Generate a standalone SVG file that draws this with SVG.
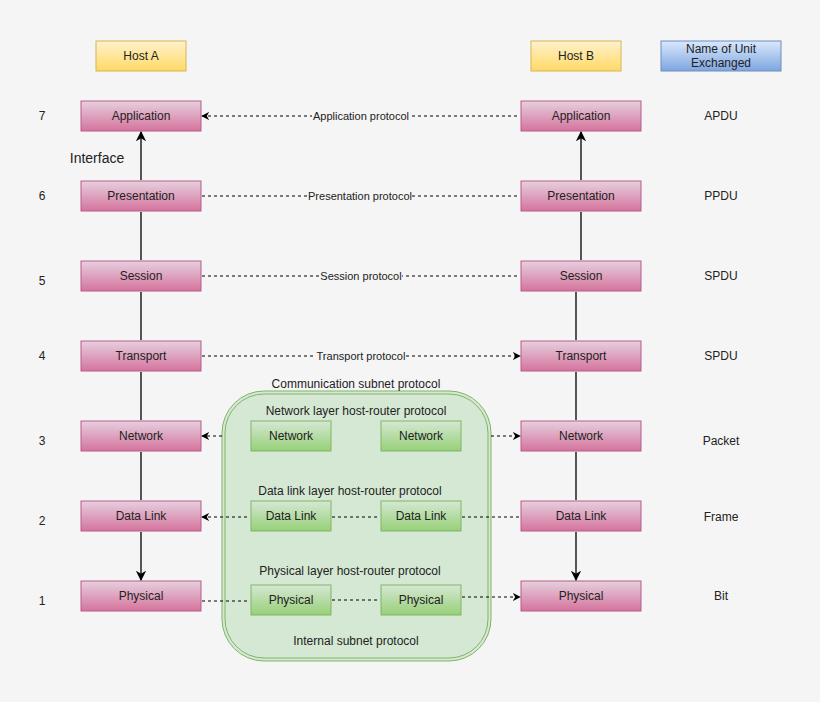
<svg xmlns="http://www.w3.org/2000/svg" width="820" height="702" viewBox="0 0 820 702">
<defs>
<linearGradient id="pk" x1="0" y1="0" x2="0" y2="1"><stop offset="0" stop-color="#e6d0de"/><stop offset="1" stop-color="#d5739d"/></linearGradient>
<linearGradient id="gr" x1="0" y1="0" x2="0" y2="1"><stop offset="0" stop-color="#d5e8d4"/><stop offset="1" stop-color="#97d077"/></linearGradient>
<linearGradient id="yl" x1="0" y1="0" x2="0" y2="1"><stop offset="0" stop-color="#fff2cc"/><stop offset="1" stop-color="#ffd966"/></linearGradient>
<linearGradient id="bl" x1="0" y1="0" x2="0" y2="1"><stop offset="0" stop-color="#dae8fc"/><stop offset="1" stop-color="#7ea6e0"/></linearGradient>
<marker id="a" viewBox="0 0 10 10" refX="9" refY="5" markerWidth="8" markerHeight="8" orient="auto-start-reverse"><path d="M0,0 L10,5 L0,10 L3,5 Z" fill="#000"/></marker>
<style>
text{font-family:"Liberation Sans",Arial,sans-serif;font-size:12px;fill:#222;text-anchor:middle;dominant-baseline:central}
.p{fill:url(#pk);stroke:#b85c8a}
.g{fill:url(#gr);stroke:#82b366}
.s{stroke:#000;stroke-width:1.3;fill:none;marker-start:url(#a);marker-end:url(#a)}
.d{stroke:#000;fill:none;stroke-dasharray:3 3;marker-start:url(#a);marker-end:url(#a)}
.lb{fill:#f5f5f5}
.sm{font-size:11px}
</style>
</defs>
<rect width="820" height="702" fill="#f5f5f5"/>
<g id="subnet"><rect x="222" y="391" width="269" height="270" rx="42" fill="#d5e8d4" stroke="#82b366" stroke-width="1"/><rect x="225" y="394" width="263" height="264" rx="39" fill="none" stroke="#82b366"/>
<text x="356" y="384">Communication subnet protocol</text>
<text x="356" y="411">Network layer host-router protocol</text>
<text x="350" y="491">Data link layer host-router protocol</text>
<text x="350" y="571">Physical layer host-router protocol</text>
<text x="356" y="641">Internal subnet protocol</text></g>
<g id="hostA"><rect x="96" y="41" width="90" height="30" fill="url(#yl)" stroke="#d6b656"/><text x="141" y="56">Host A</text></g>
<g id="hostB"><rect x="531" y="41" width="90" height="30" fill="url(#yl)" stroke="#d6b656"/><text x="576" y="56">Host B</text></g>
<g id="unit"><rect x="661" y="41" width="120" height="30" fill="url(#bl)" stroke="#6c8ebf"/><text x="721" y="49">Name of Unit</text><text x="721" y="63">Exchanged</text></g>
<g id="A7"><rect class="p" x="81" y="101" width="120" height="30"/><text x="141" y="116">Application</text></g>
<g id="A6"><rect class="p" x="81" y="181" width="120" height="30"/><text x="141" y="196">Presentation</text></g>
<g id="A5"><rect class="p" x="81" y="261" width="120" height="30"/><text x="141" y="276">Session</text></g>
<g id="A4"><rect class="p" x="81" y="341" width="120" height="30"/><text x="141" y="356">Transport</text></g>
<g id="A3"><rect class="p" x="81" y="421" width="120" height="30"/><text x="141" y="436">Network</text></g>
<g id="A2"><rect class="p" x="81" y="501" width="120" height="30"/><text x="141" y="516">Data Link</text></g>
<g id="A1"><rect class="p" x="81" y="581" width="120" height="30"/><text x="141" y="596">Physical</text></g>
<g id="B7"><rect class="p" x="521" y="101" width="120" height="30"/><text x="581" y="116">Application</text></g>
<g id="B6"><rect class="p" x="521" y="181" width="120" height="30"/><text x="581" y="196">Presentation</text></g>
<g id="B5"><rect class="p" x="521" y="261" width="120" height="30"/><text x="581" y="276">Session</text></g>
<g id="B4"><rect class="p" x="521" y="341" width="120" height="30"/><text x="581" y="356">Transport</text></g>
<g id="B3"><rect class="p" x="521" y="421" width="120" height="30"/><text x="581" y="436">Network</text></g>
<g id="B2"><rect class="p" x="521" y="501" width="120" height="30"/><text x="581" y="516">Data Link</text></g>
<g id="B1"><rect class="p" x="521" y="581" width="120" height="30"/><text x="581" y="596">Physical</text></g>
<g id="R3a"><rect class="g" x="251" y="421" width="80" height="30"/><text x="291" y="436">Network</text></g>
<g id="R3b"><rect class="g" x="381" y="421" width="80" height="30"/><text x="421" y="436">Network</text></g>
<g id="R2a"><rect class="g" x="251" y="501" width="80" height="30"/><text x="291" y="516">Data Link</text></g>
<g id="R2b"><rect class="g" x="381" y="501" width="80" height="30"/><text x="421" y="516">Data Link</text></g>
<g id="R1a"><rect class="g" x="251" y="585" width="80" height="30"/><text x="291" y="600">Physical</text></g>
<g id="R1b"><rect class="g" x="381" y="585" width="80" height="30"/><text x="421" y="600">Physical</text></g>
<g id="labels">
<text x="42" y="116">7</text><text x="42" y="196">6</text><text x="42" y="281">5</text><text x="42" y="356">4</text><text x="42" y="441">3</text><text x="42" y="521">2</text><text x="42" y="601">1</text>
<text x="721" y="116">APDU</text><text x="721" y="196">PPDU</text><text x="721" y="276">SPDU</text><text x="721" y="356">SPDU</text><text x="721" y="441">Packet</text><text x="721" y="517">Frame</text><text x="721" y="596">Bit</text>
<text x="97" y="158" style="font-size:14px">Interface</text>
</g>
<g id="connectors">
<path class="s" d="M141 132V180M141 212V260M141 292V340M141 372V420M141 452V500M141 532V580"/>
<path class="s" d="M581 132V180M581 212V260M576 292V340M576 372V420M576 452V500M576 532V580"/>
<path class="d" d="M202 116H520M202 196H520M202 276H520M202 356H520"/>
<path d="M222 436H202" stroke="#000" stroke-dasharray="3 3" marker-end="url(#a)"/>
<path d="M491 436H520" stroke="#000" stroke-dasharray="3 3" marker-end="url(#a)"/>
<path class="d" d="M202 517H250M332 517H380M462 517H520M202 601H250M332 600H380M462 597H520"/>
<rect class="lb" x="312" y="109" width="98" height="14"/><text class="sm" x="361" y="116">Application protocol</text>
<rect class="lb" x="308" y="189" width="104" height="14"/><text class="sm" x="360" y="196">Presentation protocol</text>
<rect class="lb" x="320" y="269" width="82" height="14"/><text class="sm" x="361" y="276">Session protocol</text>
<rect class="lb" x="316" y="349" width="90" height="14"/><text class="sm" x="361" y="356">Transport protocol</text>
</g>
</svg>
